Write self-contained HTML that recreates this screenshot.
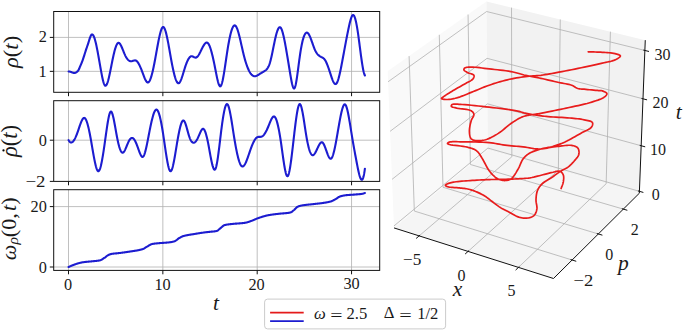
<!DOCTYPE html>
<html><head><meta charset="utf-8"><style>
html,body{margin:0;padding:0;background:#fff;}
body{width:685px;height:332px;overflow:hidden;}
svg{display:block;}
text{font-family:"Liberation Serif",serif;fill:#1a1a1a;}
</style></head><body>
<svg width="685" height="332" viewBox="0 0 685 332">
<rect width="685" height="332" fill="#fff"/>
<g id="g3d">
<polygon points="394.01,227.91 487.93,149.91 486.48,1.55 387.66,71.18" fill="#f9f9f9"/>
<polygon points="487.93,149.91 639.34,193.22 645.27,40.15 486.48,1.55" fill="#f2f2f2"/>
<polygon points="394.01,227.91 553.49,278.51 639.34,193.22 487.93,149.91" fill="#f5f5f5"/>
<polyline points="419.13,235.88 511.85,156.75 511.52,7.63" fill="none" stroke="#b0b0b0" stroke-width="0.8"/>
<polyline points="468.07,251.41 558.37,170.06 560.27,19.49" fill="none" stroke="#b0b0b0" stroke-width="0.8"/>
<polyline points="518.44,267.39 606.15,183.73 610.41,31.67" fill="none" stroke="#b0b0b0" stroke-width="0.8"/>
<polyline points="572.11,260.01 414.32,211.04 409.1,56.08" fill="none" stroke="#b0b0b0" stroke-width="0.8"/>
<polyline points="598.34,233.96 442.99,187.24 439.29,34.8" fill="none" stroke="#b0b0b0" stroke-width="0.8"/>
<polyline points="623.34,209.12 470.38,164.49 468.07,14.52" fill="none" stroke="#b0b0b0" stroke-width="0.8"/>
<polyline points="393.93,225.97 487.91,148.07 639.41,191.32" fill="none" stroke="#b0b0b0" stroke-width="0.8"/>
<polyline points="392.04,179.35 487.48,103.83 641.18,145.74" fill="none" stroke="#b0b0b0" stroke-width="0.8"/>
<polyline points="390.1,131.31 487.04,58.33 643,98.81" fill="none" stroke="#b0b0b0" stroke-width="0.8"/>
<polyline points="388.09,81.76 486.58,11.53 644.87,50.46" fill="none" stroke="#b0b0b0" stroke-width="0.8"/>
<polyline points="394.01,227.91 553.49,278.51" fill="none" stroke="#111" stroke-width="1"/>
<polyline points="553.49,278.51 639.34,193.22" fill="none" stroke="#111" stroke-width="1"/>
<polyline points="639.34,193.22 645.27,40.15" fill="none" stroke="#111" stroke-width="1"/>
<polyline points="420.03,235.12 416.13,238.44" fill="none" stroke="#111" stroke-width="1"/>
<polyline points="468.94,250.62 465.14,254.04" fill="none" stroke="#111" stroke-width="1"/>
<polyline points="519.29,266.58 515.6,270.1" fill="none" stroke="#111" stroke-width="1"/>
<polyline points="570.57,259.53 576.24,261.29" fill="none" stroke="#111" stroke-width="1"/>
<polyline points="596.82,233.5 602.4,235.18" fill="none" stroke="#111" stroke-width="1"/>
<polyline points="621.85,208.68 627.34,210.28" fill="none" stroke="#111" stroke-width="1"/>
<polyline points="637.93,190.89 643.37,192.45" fill="none" stroke="#111" stroke-width="1"/>
<polyline points="639.68,145.33 645.19,146.83" fill="none" stroke="#111" stroke-width="1"/>
<polyline points="641.47,98.41 647.07,99.87" fill="none" stroke="#111" stroke-width="1"/>
<polyline points="643.32,50.08 649.01,51.48" fill="none" stroke="#111" stroke-width="1"/>
<path d="M561.1 188.5 L561.39 187.69 L561.7 186.89 L562.02 186.08 L562.34 185.28 L562.64 184.47 L562.9 183.66 L563.13 182.83 L563.3 182 L563.44 181.13 L563.56 180.21 L563.65 179.28 L563.71 178.35 L563.71 177.44 L563.65 176.56 L563.52 175.74 L563.3 175 L563.05 174.41 L562.75 173.84 L562.4 173.29 L562 172.77 L561.56 172.3 L561.08 171.89 L560.56 171.55 L560 171.3 L559.2 171.13 L558.29 171.11 L557.3 171.23 L556.24 171.44 L555.16 171.7 L554.08 171.99 L553.01 172.27 L552 172.5 L551.06 172.7 L550.16 172.91 L549.27 173.14 L548.38 173.38 L547.48 173.62 L546.54 173.88 L545.55 174.14 L544.5 174.4 L542.91 174.8 L541.2 175.24 L539.4 175.71 L537.53 176.19 L535.62 176.65 L533.72 177.09 L531.83 177.48 L530 177.8 L528.3 178.04 L526.61 178.24 L524.94 178.39 L523.26 178.52 L521.58 178.63 L519.88 178.72 L518.16 178.81 L516.4 178.9 L514.41 179 L512.35 179.08 L510.25 179.15 L508.13 179.21 L506.02 179.27 L503.95 179.31 L501.93 179.36 L500 179.4 L498.45 179.43 L496.97 179.45 L495.54 179.47 L494.14 179.48 L492.72 179.49 L491.28 179.52 L489.78 179.55 L488.2 179.6 L486.11 179.68 L483.91 179.78 L481.63 179.89 L479.31 180.02 L476.96 180.15 L474.62 180.29 L472.32 180.44 L470.1 180.6 L468.05 180.74 L465.98 180.88 L463.9 181.02 L461.85 181.17 L459.86 181.34 L457.95 181.53 L456.15 181.75 L454.5 182 L453.41 182.19 L452.35 182.4 L451.32 182.61 L450.34 182.84 L449.43 183.08 L448.59 183.34 L447.84 183.61 L447.2 183.9 L446.87 184.07 L446.54 184.26 L446.23 184.45 L445.95 184.64 L445.72 184.84 L445.54 185.03 L445.43 185.22 L445.4 185.4 L445.49 185.61 L445.71 185.81 L446.03 186.02 L446.42 186.21 L446.88 186.4 L447.38 186.58 L447.89 186.75 L448.4 186.9 L449.34 187.11 L450.42 187.26 L451.62 187.38 L452.89 187.46 L454.21 187.53 L455.54 187.6 L456.85 187.69 L458.1 187.8 L459.31 187.92 L460.52 188.04 L461.74 188.15 L462.96 188.28 L464.16 188.41 L465.36 188.58 L466.54 188.77 L467.7 189 L468.79 189.26 L469.86 189.54 L470.91 189.84 L471.96 190.17 L473 190.52 L474.03 190.9 L475.06 191.29 L476.1 191.7 L477.18 192.15 L478.27 192.62 L479.35 193.11 L480.43 193.63 L481.5 194.16 L482.56 194.72 L483.59 195.3 L484.6 195.9 L485.55 196.51 L486.46 197.15 L487.36 197.82 L488.24 198.5 L489.11 199.2 L489.99 199.9 L490.88 200.6 L491.8 201.3 L492.8 202.05 L493.8 202.82 L494.82 203.6 L495.85 204.38 L496.88 205.15 L497.92 205.9 L498.96 206.62 L500 207.3 L500.98 207.9 L501.95 208.46 L502.93 208.99 L503.91 209.51 L504.9 210.01 L505.91 210.53 L506.94 211.05 L508 211.6 L509.27 212.29 L510.59 213.05 L511.94 213.83 L513.32 214.61 L514.7 215.36 L516.09 216.05 L517.46 216.64 L518.8 217.1 L519.96 217.41 L521.14 217.68 L522.32 217.89 L523.49 218.04 L524.64 218.14 L525.77 218.16 L526.86 218.12 L527.9 218 L528.78 217.84 L529.66 217.64 L530.53 217.38 L531.37 217.08 L532.17 216.72 L532.91 216.31 L533.6 215.83 L534.2 215.3 L534.73 214.69 L535.21 213.99 L535.62 213.23 L535.98 212.42 L536.29 211.56 L536.54 210.68 L536.74 209.79 L536.9 208.9 L536.97 207.86 L536.92 206.78 L536.77 205.66 L536.57 204.52 L536.35 203.37 L536.16 202.2 L536.03 201.05 L536 199.9 L536.04 198.72 L536.12 197.51 L536.22 196.29 L536.36 195.08 L536.56 193.88 L536.81 192.7 L537.12 191.57 L537.5 190.5 L537.92 189.54 L538.4 188.61 L538.92 187.71 L539.5 186.84 L540.13 186 L540.8 185.18 L541.53 184.38 L542.3 183.6 L543.28 182.74 L544.37 181.94 L545.55 181.17 L546.78 180.44 L548.03 179.71 L549.29 178.99 L550.52 178.26 L551.7 177.5 L552.8 176.74 L553.89 175.95 L554.97 175.16 L556.04 174.37 L557.11 173.59 L558.18 172.83 L559.24 172.09 L560.3 171.4 L561.28 170.82 L562.26 170.29 L563.24 169.8 L564.22 169.32 L565.19 168.83 L566.15 168.31 L567.08 167.74 L568 167.1 L568.97 166.32 L569.95 165.48 L570.91 164.57 L571.86 163.64 L572.77 162.68 L573.64 161.73 L574.45 160.8 L575.2 159.9 L575.77 159.22 L576.34 158.55 L576.89 157.9 L577.4 157.24 L577.86 156.59 L578.26 155.91 L578.58 155.22 L578.8 154.5 L578.94 153.72 L579.01 152.88 L579.02 152.01 L578.95 151.13 L578.81 150.27 L578.59 149.46 L578.29 148.73 L577.9 148.1 L577.39 147.55 L576.77 147.08 L576.05 146.67 L575.25 146.33 L574.39 146.03 L573.48 145.78 L572.55 145.57 L571.6 145.4 L570.21 145.26 L568.64 145.25 L566.96 145.35 L565.23 145.52 L563.5 145.73 L561.83 145.95 L560.28 146.15 L558.9 146.3 L558.1 146.37 L557.37 146.44 L556.7 146.5 L556.05 146.56 L555.41 146.63 L554.74 146.71 L554.01 146.8 L553.2 146.9 L551.82 147.12 L550.32 147.41 L548.72 147.75 L547.04 148.09 L545.31 148.42 L543.54 148.7 L541.77 148.91 L540 149 L537.99 148.96 L535.94 148.8 L533.84 148.54 L531.72 148.22 L529.57 147.87 L527.42 147.51 L525.26 147.18 L523.1 146.9 L520.86 146.66 L518.59 146.44 L516.3 146.23 L514.01 146.03 L511.72 145.82 L509.45 145.6 L507.21 145.36 L505 145.1 L503 144.82 L501.07 144.51 L499.18 144.19 L497.3 143.85 L495.39 143.52 L493.43 143.21 L491.38 142.93 L489.2 142.7 L486.1 142.46 L482.72 142.26 L479.15 142.1 L475.5 141.98 L471.87 141.9 L468.36 141.84 L465.07 141.81 L462.1 141.8 L460.15 141.78 L458.18 141.74 L456.26 141.7 L454.42 141.68 L452.73 141.7 L451.23 141.78 L449.97 141.94 L449 142.2 L448.69 142.33 L448.41 142.49 L448.15 142.66 L447.92 142.83 L447.73 143.01 L447.6 143.18 L447.52 143.35 L447.5 143.5 L447.56 143.64 L447.69 143.78 L447.88 143.9 L448.13 144.03 L448.42 144.14 L448.76 144.26 L449.12 144.38 L449.5 144.5 L450.92 144.83 L452.87 145.13 L455.2 145.42 L457.77 145.7 L460.42 146.01 L463.03 146.35 L465.43 146.74 L467.5 147.2 L468.83 147.56 L470.1 147.91 L471.32 148.27 L472.49 148.66 L473.6 149.09 L474.66 149.58 L475.66 150.15 L476.6 150.8 L477.43 151.52 L478.18 152.31 L478.86 153.16 L479.49 154.07 L480.1 155.02 L480.71 156.02 L481.34 157.05 L482 158.1 L482.87 159.52 L483.73 161.09 L484.6 162.74 L485.48 164.43 L486.37 166.12 L487.28 167.76 L488.22 169.3 L489.2 170.7 L490.05 171.79 L490.92 172.85 L491.8 173.87 L492.71 174.84 L493.63 175.74 L494.57 176.58 L495.52 177.33 L496.5 178 L497.36 178.51 L498.24 178.97 L499.13 179.37 L500.04 179.73 L500.95 180.02 L501.87 180.25 L502.79 180.41 L503.7 180.5 L504.61 180.53 L505.55 180.51 L506.49 180.44 L507.43 180.29 L508.36 180.08 L509.28 179.78 L510.16 179.39 L511 178.9 L512.03 178.08 L513.02 177.04 L513.97 175.83 L514.88 174.49 L515.76 173.08 L516.6 171.65 L517.42 170.24 L518.2 168.9 L518.89 167.65 L519.5 166.34 L520.07 165.01 L520.62 163.68 L521.18 162.38 L521.76 161.13 L522.39 159.96 L523.1 158.9 L523.75 158.08 L524.42 157.31 L525.11 156.59 L525.82 155.92 L526.57 155.28 L527.37 154.67 L528.21 154.08 L529.1 153.5 L530.26 152.84 L531.51 152.22 L532.83 151.64 L534.22 151.1 L535.64 150.59 L537.09 150.11 L538.55 149.65 L540 149.2 L541.58 148.76 L543.21 148.39 L544.88 148.05 L546.56 147.74 L548.25 147.43 L549.93 147.1 L551.59 146.73 L553.2 146.3 L554.71 145.85 L556.19 145.39 L557.64 144.91 L559.08 144.41 L560.53 143.87 L561.99 143.3 L563.47 142.68 L565 142 L566.89 141.1 L568.85 140.09 L570.85 139 L572.87 137.86 L574.89 136.7 L576.86 135.55 L578.78 134.44 L580.6 133.4 L582.14 132.58 L583.74 131.8 L585.35 131.04 L586.91 130.29 L588.36 129.54 L589.65 128.76 L590.71 127.96 L591.5 127.1 L591.86 126.54 L592.17 125.94 L592.42 125.32 L592.59 124.7 L592.69 124.09 L592.69 123.51 L592.6 122.97 L592.4 122.5 L591.91 121.96 L591.17 121.51 L590.23 121.14 L589.14 120.82 L587.94 120.55 L586.68 120.3 L585.42 120.05 L584.2 119.8 L582.62 119.48 L580.97 119.2 L579.24 118.96 L577.45 118.74 L575.61 118.55 L573.71 118.36 L571.77 118.18 L569.8 118 L567.26 117.79 L564.56 117.61 L561.75 117.44 L558.89 117.29 L556.03 117.14 L553.24 116.98 L550.58 116.8 L548.1 116.6 L546.29 116.43 L544.55 116.25 L542.86 116.06 L541.23 115.87 L539.63 115.66 L538.07 115.45 L536.53 115.23 L535 115 L533.68 114.79 L532.38 114.57 L531.11 114.35 L529.86 114.12 L528.63 113.88 L527.41 113.63 L526.2 113.37 L525 113.1 L523.92 112.84 L522.92 112.56 L521.94 112.27 L520.97 111.97 L519.96 111.67 L518.88 111.37 L517.71 111.08 L516.4 110.8 L513.74 110.32 L510.68 109.84 L507.33 109.37 L503.76 108.91 L500.08 108.46 L496.36 108.02 L492.71 107.6 L489.2 107.2 L485.72 106.8 L482.11 106.38 L478.45 105.97 L474.82 105.58 L471.29 105.23 L467.94 104.92 L464.85 104.67 L462.1 104.5 L460.56 104.4 L459.03 104.28 L457.55 104.17 L456.17 104.08 L454.9 104.04 L453.8 104.08 L452.88 104.23 L452.2 104.5 L451.96 104.68 L451.75 104.88 L451.57 105.12 L451.42 105.36 L451.32 105.62 L451.26 105.86 L451.25 106.09 L451.3 106.3 L451.54 106.6 L451.98 106.86 L452.57 107.09 L453.29 107.3 L454.09 107.5 L454.95 107.69 L455.83 107.89 L456.7 108.1 L458.25 108.42 L460.11 108.68 L462.16 108.91 L464.28 109.16 L466.35 109.44 L468.28 109.78 L469.93 110.23 L471.2 110.8 L471.75 111.17 L472.24 111.56 L472.68 111.98 L473.06 112.42 L473.37 112.89 L473.62 113.37 L473.8 113.88 L473.9 114.4 L473.87 115.08 L473.67 115.78 L473.33 116.52 L472.9 117.3 L472.42 118.1 L471.95 118.94 L471.53 119.8 L471.2 120.7 L470.86 121.92 L470.52 123.25 L470.2 124.65 L469.91 126.09 L469.67 127.54 L469.5 128.96 L469.4 130.33 L469.4 131.6 L469.45 132.61 L469.53 133.64 L469.65 134.66 L469.82 135.64 L470.05 136.57 L470.35 137.42 L470.73 138.17 L471.2 138.8 L471.69 139.24 L472.26 139.6 L472.9 139.88 L473.58 140.1 L474.31 140.27 L475.06 140.4 L475.83 140.51 L476.6 140.6 L477.6 140.68 L478.65 140.71 L479.75 140.68 L480.88 140.6 L482.04 140.46 L483.22 140.27 L484.41 140.01 L485.6 139.7 L487.12 139.21 L488.68 138.6 L490.28 137.89 L491.9 137.09 L493.52 136.23 L495.14 135.31 L496.74 134.37 L498.3 133.4 L499.93 132.3 L501.55 131.09 L503.15 129.8 L504.73 128.48 L506.31 127.15 L507.88 125.85 L509.44 124.63 L511 123.5 L512.39 122.56 L513.79 121.64 L515.19 120.74 L516.58 119.88 L517.95 119.07 L519.29 118.33 L520.57 117.67 L521.8 117.1 L522.63 116.76 L523.43 116.47 L524.2 116.22 L524.95 116 L525.7 115.81 L526.45 115.64 L527.21 115.47 L528 115.3 L528.84 115.13 L529.69 115 L530.54 114.88 L531.4 114.77 L532.28 114.67 L533.16 114.56 L534.07 114.44 L535 114.3 L536.09 114.12 L537.19 113.94 L538.29 113.75 L539.42 113.55 L540.59 113.34 L541.82 113.11 L543.12 112.86 L544.5 112.6 L546.79 112.15 L549.29 111.65 L551.96 111.11 L554.75 110.54 L557.62 109.94 L560.51 109.33 L563.39 108.71 L566.2 108.1 L569.14 107.47 L572.16 106.84 L575.22 106.2 L578.28 105.55 L581.3 104.88 L584.23 104.18 L587.05 103.46 L589.7 102.7 L591.77 102.07 L593.86 101.43 L595.91 100.78 L597.89 100.11 L599.75 99.41 L601.43 98.7 L602.9 97.96 L604.1 97.2 L604.67 96.76 L605.21 96.31 L605.71 95.83 L606.15 95.36 L606.5 94.89 L606.76 94.44 L606.9 94 L606.9 93.6 L606.7 93.19 L606.3 92.78 L605.74 92.38 L605.08 92.01 L604.36 91.67 L603.62 91.37 L602.92 91.11 L602.3 90.9 L601.86 90.78 L601.44 90.71 L601.04 90.67 L600.64 90.66 L600.22 90.66 L599.77 90.65 L599.26 90.64 L598.7 90.6 L597.31 90.47 L595.62 90.32 L593.71 90.14 L591.68 89.94 L589.63 89.74 L587.63 89.55 L585.79 89.36 L584.2 89.2 L583.29 89.12 L582.43 89.07 L581.63 89.03 L580.87 88.99 L580.12 88.93 L579.39 88.84 L578.65 88.7 L577.9 88.5 L577.11 88.21 L576.36 87.83 L575.63 87.41 L574.89 86.95 L574.14 86.47 L573.35 86.01 L572.51 85.58 L571.6 85.2 L570.26 84.77 L568.82 84.4 L567.29 84.07 L565.69 83.77 L564.04 83.48 L562.34 83.18 L560.63 82.86 L558.9 82.5 L556.76 82.01 L554.49 81.49 L552.14 80.93 L549.76 80.36 L547.39 79.8 L545.08 79.26 L542.86 78.75 L540.8 78.3 L539.29 77.98 L537.8 77.69 L536.35 77.4 L534.95 77.13 L533.6 76.88 L532.32 76.64 L531.11 76.41 L530 76.2 L529.35 76.08 L528.77 75.97 L528.24 75.87 L527.74 75.78 L527.22 75.68 L526.68 75.58 L526.08 75.45 L525.4 75.3 L524 74.96 L522.43 74.53 L520.72 74.05 L518.9 73.53 L516.98 73.01 L515.01 72.49 L513.01 72.02 L511 71.6 L508.49 71.16 L505.83 70.77 L503.08 70.41 L500.27 70.08 L497.43 69.77 L494.62 69.48 L491.86 69.19 L489.2 68.9 L486.81 68.62 L484.37 68.31 L481.92 68 L479.52 67.7 L477.21 67.44 L475.02 67.24 L473 67.12 L471.2 67.1 L470.2 67.12 L469.23 67.15 L468.29 67.2 L467.41 67.27 L466.61 67.38 L465.89 67.53 L465.28 67.73 L464.8 68 L464.58 68.18 L464.38 68.38 L464.21 68.61 L464.06 68.84 L463.96 69.08 L463.89 69.33 L463.87 69.57 L463.9 69.8 L464.06 70.14 L464.35 70.48 L464.76 70.83 L465.24 71.17 L465.79 71.52 L466.36 71.85 L466.94 72.18 L467.5 72.5 L468.26 72.86 L469.16 73.19 L470.13 73.49 L471.12 73.78 L472.05 74.1 L472.87 74.44 L473.51 74.84 L473.9 75.3 L474.03 75.69 L474.08 76.12 L474.04 76.58 L473.94 77.05 L473.77 77.53 L473.55 78 L473.29 78.47 L473 78.9 L472.44 79.51 L471.73 80.09 L470.88 80.63 L469.93 81.17 L468.9 81.7 L467.84 82.24 L466.76 82.8 L465.7 83.4 L464.28 84.23 L462.76 85.1 L461.16 85.99 L459.52 86.91 L457.86 87.84 L456.22 88.77 L454.62 89.7 L453.1 90.6 L451.73 91.43 L450.3 92.3 L448.87 93.19 L447.47 94.06 L446.15 94.9 L444.95 95.69 L443.92 96.4 L443.1 97 L442.8 97.23 L442.5 97.44 L442.21 97.65 L441.96 97.84 L441.75 98.02 L441.59 98.19 L441.51 98.35 L441.5 98.5 L441.66 98.7 L442.01 98.89 L442.51 99.05 L443.12 99.19 L443.81 99.3 L444.55 99.4 L445.29 99.46 L446 99.5 L447.11 99.5 L448.32 99.43 L449.62 99.3 L450.98 99.11 L452.39 98.87 L453.83 98.58 L455.27 98.26 L456.7 97.9 L458.41 97.41 L460.16 96.82 L461.94 96.16 L463.74 95.45 L465.57 94.7 L467.43 93.93 L469.3 93.16 L471.2 92.4 L473.36 91.54 L475.56 90.64 L477.8 89.7 L480.06 88.76 L482.34 87.82 L484.63 86.9 L486.92 86.02 L489.2 85.2 L491.44 84.43 L493.7 83.68 L495.95 82.96 L498.21 82.26 L500.48 81.59 L502.75 80.96 L505.02 80.36 L507.3 79.8 L509.56 79.29 L511.84 78.81 L514.13 78.36 L516.42 77.95 L518.7 77.57 L520.97 77.22 L523.2 76.9 L525.4 76.6 L527.37 76.37 L529.3 76.2 L531.21 76.06 L533.1 75.94 L534.99 75.83 L536.9 75.69 L538.83 75.52 L540.8 75.3 L542.98 75 L545.16 74.67 L547.36 74.31 L549.58 73.93 L551.84 73.52 L554.13 73.09 L556.49 72.65 L558.9 72.2 L561.89 71.63 L565.03 71.02 L568.27 70.38 L571.56 69.72 L574.84 69.05 L578.08 68.38 L581.21 67.73 L584.2 67.1 L586.63 66.58 L589.02 66.07 L591.35 65.57 L593.64 65.07 L595.89 64.57 L598.08 64.08 L600.21 63.59 L602.3 63.1 L604.04 62.71 L605.78 62.35 L607.49 62.01 L609.17 61.66 L610.78 61.3 L612.3 60.89 L613.72 60.43 L615 59.9 L615.9 59.46 L616.84 58.96 L617.76 58.43 L618.62 57.89 L619.36 57.35 L619.93 56.82 L620.3 56.33 L620.4 55.9 L620.23 55.54 L619.82 55.2 L619.23 54.89 L618.49 54.59 L617.66 54.32 L616.77 54.06 L615.87 53.82 L615 53.6 L613.69 53.31 L612.24 53.08 L610.68 52.89 L609.05 52.74 L607.36 52.62 L605.66 52.51 L603.96 52.41 L602.3 52.3 L600.57 52.19 L598.83 52.11 L597.07 52.05 L595.3 51.99 L593.52 51.95 L591.74 51.9 L589.97 51.86 L588.2 51.8" fill="none" stroke="#e81c1c" stroke-width="1.7" stroke-linejoin="round" stroke-linecap="round"/>
</g>
<g id="g2d">
<line x1="68.5" y1="11.5" x2="68.5" y2="92.3" stroke="#b0b0b0" stroke-width="0.8"/>
<line x1="162.85" y1="11.5" x2="162.85" y2="92.3" stroke="#b0b0b0" stroke-width="0.8"/>
<line x1="257.2" y1="11.5" x2="257.2" y2="92.3" stroke="#b0b0b0" stroke-width="0.8"/>
<line x1="351.55" y1="11.5" x2="351.55" y2="92.3" stroke="#b0b0b0" stroke-width="0.8"/>
<line x1="53.7" y1="71.35" x2="379.7" y2="71.35" stroke="#b0b0b0" stroke-width="0.8"/>
<line x1="53.7" y1="37.4" x2="379.7" y2="37.4" stroke="#b0b0b0" stroke-width="0.8"/>
<line x1="68.5" y1="100.7" x2="68.5" y2="181.4" stroke="#b0b0b0" stroke-width="0.8"/>
<line x1="162.85" y1="100.7" x2="162.85" y2="181.4" stroke="#b0b0b0" stroke-width="0.8"/>
<line x1="257.2" y1="100.7" x2="257.2" y2="181.4" stroke="#b0b0b0" stroke-width="0.8"/>
<line x1="351.55" y1="100.7" x2="351.55" y2="181.4" stroke="#b0b0b0" stroke-width="0.8"/>
<line x1="53.7" y1="140.2" x2="379.7" y2="140.2" stroke="#b0b0b0" stroke-width="0.8"/>
<line x1="68.5" y1="189.7" x2="68.5" y2="270.4" stroke="#b0b0b0" stroke-width="0.8"/>
<line x1="162.85" y1="189.7" x2="162.85" y2="270.4" stroke="#b0b0b0" stroke-width="0.8"/>
<line x1="257.2" y1="189.7" x2="257.2" y2="270.4" stroke="#b0b0b0" stroke-width="0.8"/>
<line x1="351.55" y1="189.7" x2="351.55" y2="270.4" stroke="#b0b0b0" stroke-width="0.8"/>
<line x1="53.7" y1="267" x2="379.7" y2="267" stroke="#b0b0b0" stroke-width="0.8"/>
<line x1="53.7" y1="206.6" x2="379.7" y2="206.6" stroke="#b0b0b0" stroke-width="0.8"/>
<path d="M68.6 71.5 L68.93 71.49 L69.26 71.52 L69.59 71.57 L69.92 71.65 L70.25 71.74 L70.58 71.85 L70.91 71.97 L71.24 72.1 L71.57 72.23 L71.9 72.36 L72.23 72.49 L72.56 72.61 L72.88 72.71 L73.21 72.8 L73.54 72.87 L73.87 72.92 L74.2 72.94 L74.53 72.93 L74.86 72.89 L75.19 72.81 L75.52 72.69 L75.85 72.54 L76.18 72.36 L76.51 72.15 L76.84 71.92 L77.17 71.67 L77.5 71.38 L77.83 71.04 L78.16 70.63 L78.49 70.12 L78.82 69.5 L79.15 68.8 L79.48 68.03 L79.81 67.22 L80.14 66.4 L80.47 65.6 L80.79 64.83 L81.12 64.06 L81.45 63.29 L81.78 62.5 L82.11 61.67 L82.44 60.79 L82.77 59.87 L83.1 58.91 L83.43 57.92 L83.76 56.9 L84.09 55.87 L84.42 54.83 L84.75 53.78 L85.08 52.74 L85.41 51.7 L85.74 50.68 L86.07 49.68 L86.4 48.7 L86.73 47.72 L87.06 46.75 L87.39 45.78 L87.72 44.81 L88.05 43.82 L88.38 42.81 L88.7 41.78 L89.03 40.73 L89.36 39.68 L89.69 38.66 L90.02 37.69 L90.35 36.8 L90.68 36.02 L91.01 35.37 L91.34 34.88 L91.67 34.57 L92 34.43 L92.33 34.46 L92.66 34.64 L92.99 34.97 L93.32 35.45 L93.65 36.06 L93.98 36.81 L94.31 37.67 L94.64 38.65 L94.97 39.75 L95.3 40.94 L95.63 42.23 L95.96 43.61 L96.29 45.06 L96.62 46.6 L96.94 48.2 L97.27 49.86 L97.6 51.57 L97.93 53.33 L98.26 55.13 L98.59 56.97 L98.92 58.83 L99.25 60.7 L99.58 62.59 L99.91 64.49 L100.24 66.38 L100.57 68.26 L100.9 70.11 L101.23 71.92 L101.56 73.68 L101.89 75.37 L102.22 76.98 L102.55 78.49 L102.88 79.9 L103.21 81.19 L103.54 82.34 L103.87 83.35 L104.2 84.19 L104.53 84.87 L104.85 85.35 L105.18 85.63 L105.51 85.72 L105.84 85.61 L106.17 85.32 L106.5 84.87 L106.83 84.26 L107.16 83.5 L107.49 82.61 L107.82 81.59 L108.15 80.46 L108.48 79.22 L108.81 77.9 L109.14 76.49 L109.47 75.01 L109.8 73.47 L110.13 71.88 L110.46 70.26 L110.79 68.6 L111.12 66.93 L111.45 65.26 L111.78 63.59 L112.11 61.94 L112.44 60.32 L112.76 58.73 L113.09 57.18 L113.42 55.69 L113.75 54.25 L114.08 52.88 L114.41 51.56 L114.74 50.32 L115.07 49.16 L115.4 48.07 L115.73 47.08 L116.06 46.17 L116.39 45.37 L116.72 44.66 L117.05 44.07 L117.38 43.58 L117.71 43.22 L118.04 42.98 L118.37 42.86 L118.7 42.87 L119.03 42.99 L119.36 43.21 L119.69 43.52 L120.02 43.93 L120.35 44.41 L120.67 44.96 L121 45.58 L121.33 46.25 L121.66 46.97 L121.99 47.72 L122.32 48.51 L122.65 49.31 L122.98 50.14 L123.31 50.97 L123.64 51.79 L123.97 52.61 L124.3 53.4 L124.63 54.18 L124.96 54.91 L125.29 55.61 L125.62 56.26 L125.95 56.87 L126.28 57.44 L126.61 57.96 L126.94 58.45 L127.27 58.89 L127.6 59.29 L127.93 59.66 L128.26 59.98 L128.59 60.27 L128.91 60.52 L129.24 60.73 L129.57 60.91 L129.9 61.05 L130.23 61.15 L130.56 61.22 L130.89 61.25 L131.22 61.25 L131.55 61.22 L131.88 61.16 L132.21 61.08 L132.54 60.98 L132.87 60.87 L133.2 60.76 L133.53 60.66 L133.86 60.56 L134.19 60.48 L134.52 60.43 L134.85 60.4 L135.18 60.41 L135.51 60.46 L135.84 60.55 L136.17 60.7 L136.5 60.91 L136.82 61.18 L137.15 61.51 L137.48 61.89 L137.81 62.32 L138.14 62.81 L138.47 63.33 L138.8 63.91 L139.13 64.52 L139.46 65.17 L139.79 65.86 L140.12 66.58 L140.45 67.33 L140.78 68.1 L141.11 68.91 L141.44 69.73 L141.77 70.57 L142.1 71.43 L142.43 72.31 L142.76 73.19 L143.09 74.08 L143.42 74.97 L143.75 75.84 L144.08 76.69 L144.41 77.52 L144.73 78.31 L145.06 79.06 L145.39 79.75 L145.72 80.39 L146.05 80.96 L146.38 81.45 L146.71 81.86 L147.04 82.17 L147.37 82.39 L147.7 82.5 L148.03 82.49 L148.36 82.37 L148.69 82.12 L149.02 81.76 L149.35 81.29 L149.68 80.71 L150.01 80.03 L150.34 79.25 L150.67 78.38 L151 77.42 L151.33 76.36 L151.66 75.23 L151.99 74.02 L152.32 72.74 L152.65 71.38 L152.97 69.96 L153.3 68.47 L153.63 66.93 L153.96 65.33 L154.29 63.69 L154.62 61.99 L154.95 60.26 L155.28 58.48 L155.61 56.68 L155.94 54.85 L156.27 53.01 L156.6 51.17 L156.93 49.33 L157.26 47.51 L157.59 45.71 L157.92 43.94 L158.25 42.21 L158.58 40.53 L158.91 38.9 L159.24 37.35 L159.57 35.86 L159.9 34.46 L160.23 33.16 L160.56 31.95 L160.88 30.85 L161.21 29.88 L161.54 29.03 L161.87 28.31 L162.2 27.74 L162.53 27.33 L162.86 27.08 L163.19 27 L163.52 27.09 L163.85 27.36 L164.18 27.8 L164.51 28.39 L164.84 29.13 L165.17 30.01 L165.5 31.02 L165.83 32.14 L166.16 33.38 L166.49 34.72 L166.82 36.16 L167.15 37.68 L167.48 39.27 L167.81 40.93 L168.14 42.64 L168.47 44.41 L168.79 46.21 L169.12 48.05 L169.45 49.9 L169.78 51.77 L170.11 53.64 L170.44 55.51 L170.77 57.36 L171.1 59.19 L171.43 60.98 L171.76 62.74 L172.09 64.45 L172.42 66.12 L172.75 67.73 L173.08 69.29 L173.41 70.79 L173.74 72.23 L174.07 73.6 L174.4 74.89 L174.73 76.11 L175.06 77.25 L175.39 78.3 L175.72 79.27 L176.05 80.14 L176.38 80.91 L176.71 81.59 L177.03 82.16 L177.36 82.61 L177.69 82.96 L178.02 83.19 L178.35 83.29 L178.68 83.27 L179.01 83.12 L179.34 82.85 L179.67 82.46 L180 81.96 L180.33 81.36 L180.66 80.68 L180.99 79.92 L181.32 79.08 L181.65 78.18 L181.98 77.23 L182.31 76.23 L182.64 75.2 L182.97 74.14 L183.3 73.06 L183.63 71.96 L183.96 70.87 L184.29 69.79 L184.62 68.72 L184.94 67.67 L185.27 66.66 L185.6 65.69 L185.93 64.75 L186.26 63.85 L186.59 63 L186.92 62.18 L187.25 61.41 L187.58 60.69 L187.91 60.02 L188.24 59.39 L188.57 58.82 L188.9 58.3 L189.23 57.83 L189.56 57.42 L189.89 57.07 L190.22 56.77 L190.55 56.54 L190.88 56.37 L191.21 56.26 L191.54 56.22 L191.87 56.23 L192.2 56.3 L192.53 56.4 L192.85 56.53 L193.18 56.69 L193.51 56.86 L193.84 57.03 L194.17 57.19 L194.5 57.34 L194.83 57.47 L195.16 57.56 L195.49 57.6 L195.82 57.6 L196.15 57.53 L196.48 57.4 L196.81 57.19 L197.14 56.92 L197.47 56.59 L197.8 56.21 L198.13 55.77 L198.46 55.29 L198.79 54.77 L199.12 54.21 L199.45 53.62 L199.78 53.01 L200.11 52.37 L200.44 51.72 L200.76 51.05 L201.09 50.38 L201.42 49.71 L201.75 49.03 L202.08 48.37 L202.41 47.72 L202.74 47.09 L203.07 46.48 L203.4 45.89 L203.73 45.34 L204.06 44.83 L204.39 44.35 L204.72 43.92 L205.05 43.55 L205.38 43.23 L205.71 42.97 L206.04 42.77 L206.37 42.65 L206.7 42.6 L207.03 42.64 L207.36 42.76 L207.69 42.96 L208.02 43.27 L208.35 43.67 L208.68 44.16 L209 44.75 L209.33 45.43 L209.66 46.2 L209.99 47.04 L210.32 47.96 L210.65 48.96 L210.98 50.03 L211.31 51.17 L211.64 52.37 L211.97 53.64 L212.3 54.96 L212.63 56.33 L212.96 57.76 L213.29 59.23 L213.62 60.75 L213.95 62.31 L214.28 63.9 L214.61 65.53 L214.94 67.18 L215.27 68.86 L215.6 70.56 L215.93 72.25 L216.26 73.92 L216.59 75.55 L216.91 77.13 L217.24 78.63 L217.57 80.05 L217.9 81.37 L218.23 82.57 L218.56 83.63 L218.89 84.54 L219.22 85.28 L219.55 85.84 L219.88 86.19 L220.21 86.33 L220.54 86.22 L220.87 85.88 L221.2 85.3 L221.53 84.51 L221.86 83.51 L222.19 82.33 L222.52 80.97 L222.85 79.46 L223.18 77.8 L223.51 76.02 L223.84 74.12 L224.17 72.13 L224.5 70.06 L224.82 67.92 L225.15 65.73 L225.48 63.51 L225.81 61.26 L226.14 59.01 L226.47 56.77 L226.8 54.55 L227.13 52.37 L227.46 50.24 L227.79 48.19 L228.12 46.2 L228.45 44.3 L228.78 42.47 L229.11 40.72 L229.44 39.05 L229.77 37.46 L230.1 35.97 L230.43 34.56 L230.76 33.24 L231.09 32.02 L231.42 30.89 L231.75 29.87 L232.08 28.94 L232.41 28.11 L232.74 27.39 L233.06 26.77 L233.39 26.27 L233.72 25.87 L234.05 25.59 L234.38 25.42 L234.71 25.37 L235.04 25.45 L235.37 25.64 L235.7 25.96 L236.03 26.4 L236.36 26.95 L236.69 27.62 L237.02 28.38 L237.35 29.24 L237.68 30.18 L238.01 31.21 L238.34 32.31 L238.67 33.47 L239 34.7 L239.33 35.98 L239.66 37.31 L239.99 38.68 L240.32 40.08 L240.65 41.51 L240.97 42.96 L241.3 44.42 L241.63 45.88 L241.96 47.35 L242.29 48.81 L242.62 50.25 L242.95 51.68 L243.28 53.08 L243.61 54.44 L243.94 55.76 L244.27 57.04 L244.6 58.27 L244.93 59.46 L245.26 60.61 L245.59 61.72 L245.92 62.78 L246.25 63.8 L246.58 64.78 L246.91 65.72 L247.24 66.61 L247.57 67.46 L247.9 68.27 L248.23 69.05 L248.56 69.78 L248.88 70.47 L249.21 71.11 L249.54 71.72 L249.87 72.29 L250.2 72.82 L250.53 73.31 L250.86 73.76 L251.19 74.18 L251.52 74.55 L251.85 74.89 L252.18 75.19 L252.51 75.45 L252.84 75.67 L253.17 75.86 L253.5 76.01 L253.83 76.12 L254.16 76.2 L254.49 76.25 L254.82 76.26 L255.15 76.24 L255.48 76.18 L255.81 76.1 L256.14 76 L256.47 75.87 L256.79 75.72 L257.12 75.56 L257.45 75.38 L257.78 75.18 L258.11 74.98 L258.44 74.77 L258.77 74.55 L259.1 74.34 L259.43 74.12 L259.76 73.9 L260.09 73.69 L260.42 73.49 L260.75 73.29 L261.08 73.1 L261.41 72.91 L261.74 72.72 L262.07 72.53 L262.4 72.35 L262.73 72.16 L263.06 71.97 L263.39 71.77 L263.72 71.58 L264.05 71.38 L264.38 71.17 L264.71 70.95 L265.03 70.73 L265.36 70.49 L265.69 70.24 L266.02 69.96 L266.35 69.66 L266.68 69.32 L267.01 68.94 L267.34 68.51 L267.67 68.02 L268 67.48 L268.33 66.87 L268.66 66.18 L268.99 65.41 L269.32 64.56 L269.65 63.62 L269.98 62.57 L270.31 61.42 L270.64 60.18 L270.97 58.85 L271.3 57.45 L271.63 55.98 L271.96 54.46 L272.29 52.89 L272.62 51.29 L272.94 49.67 L273.27 48.04 L273.6 46.4 L273.93 44.78 L274.26 43.17 L274.59 41.6 L274.92 40.06 L275.25 38.58 L275.58 37.15 L275.91 35.8 L276.24 34.53 L276.57 33.34 L276.9 32.23 L277.23 31.22 L277.56 30.31 L277.89 29.5 L278.22 28.81 L278.55 28.23 L278.88 27.77 L279.21 27.44 L279.54 27.25 L279.87 27.19 L280.2 27.28 L280.53 27.52 L280.85 27.92 L281.18 28.46 L281.51 29.14 L281.84 29.96 L282.17 30.9 L282.5 31.96 L282.83 33.13 L283.16 34.4 L283.49 35.77 L283.82 37.23 L284.15 38.77 L284.48 40.38 L284.81 42.06 L285.14 43.8 L285.47 45.59 L285.8 47.43 L286.13 49.3 L286.46 51.2 L286.79 53.13 L287.12 55.08 L287.45 57.04 L287.78 59.02 L288.11 61.01 L288.44 63.01 L288.77 65.01 L289.09 67.02 L289.42 69.02 L289.75 71.01 L290.08 73 L290.41 74.97 L290.74 76.9 L291.07 78.76 L291.4 80.53 L291.73 82.18 L292.06 83.7 L292.39 85.05 L292.72 86.22 L293.05 87.17 L293.38 87.89 L293.71 88.35 L294.04 88.53 L294.37 88.4 L294.7 87.93 L295.03 87.14 L295.36 86.06 L295.69 84.7 L296.02 83.1 L296.35 81.29 L296.68 79.29 L297 77.13 L297.33 74.84 L297.66 72.45 L297.99 69.99 L298.32 67.48 L298.65 64.95 L298.98 62.43 L299.31 59.94 L299.64 57.52 L299.97 55.2 L300.3 52.99 L300.63 50.9 L300.96 48.94 L301.29 47.09 L301.62 45.36 L301.95 43.75 L302.28 42.25 L302.61 40.86 L302.94 39.59 L303.27 38.43 L303.6 37.38 L303.93 36.44 L304.26 35.61 L304.59 34.88 L304.91 34.26 L305.24 33.74 L305.57 33.32 L305.9 33 L306.23 32.78 L306.56 32.66 L306.89 32.64 L307.22 32.71 L307.55 32.88 L307.88 33.13 L308.21 33.48 L308.54 33.92 L308.87 34.43 L309.2 35.02 L309.53 35.68 L309.86 36.39 L310.19 37.16 L310.52 37.97 L310.85 38.82 L311.18 39.7 L311.51 40.61 L311.84 41.53 L312.17 42.47 L312.5 43.41 L312.83 44.35 L313.15 45.28 L313.48 46.19 L313.81 47.08 L314.14 47.95 L314.47 48.77 L314.8 49.55 L315.13 50.29 L315.46 50.97 L315.79 51.6 L316.12 52.18 L316.45 52.71 L316.78 53.21 L317.11 53.66 L317.44 54.08 L317.77 54.46 L318.1 54.81 L318.43 55.13 L318.76 55.42 L319.09 55.68 L319.42 55.93 L319.75 56.15 L320.08 56.36 L320.41 56.55 L320.74 56.73 L321.06 56.91 L321.39 57.07 L321.72 57.23 L322.05 57.4 L322.38 57.58 L322.71 57.77 L323.04 57.98 L323.37 58.22 L323.7 58.49 L324.03 58.8 L324.36 59.16 L324.69 59.57 L325.02 60.03 L325.35 60.56 L325.68 61.14 L326.01 61.78 L326.34 62.47 L326.67 63.21 L327 63.99 L327.33 64.81 L327.66 65.67 L327.99 66.56 L328.32 67.48 L328.65 68.43 L328.97 69.4 L329.3 70.38 L329.63 71.38 L329.96 72.39 L330.29 73.4 L330.62 74.42 L330.95 75.42 L331.28 76.41 L331.61 77.38 L331.94 78.31 L332.27 79.2 L332.6 80.04 L332.93 80.82 L333.26 81.54 L333.59 82.19 L333.92 82.75 L334.25 83.23 L334.58 83.61 L334.91 83.88 L335.24 84.04 L335.57 84.08 L335.9 84 L336.23 83.77 L336.56 83.4 L336.88 82.9 L337.21 82.26 L337.54 81.5 L337.87 80.62 L338.2 79.63 L338.53 78.54 L338.86 77.35 L339.19 76.08 L339.52 74.72 L339.85 73.29 L340.18 71.79 L340.51 70.24 L340.84 68.63 L341.17 66.98 L341.5 65.29 L341.83 63.57 L342.16 61.82 L342.49 60.06 L342.82 58.3 L343.15 56.52 L343.48 54.74 L343.81 52.96 L344.14 51.18 L344.47 49.4 L344.8 47.62 L345.12 45.86 L345.45 44.1 L345.78 42.35 L346.11 40.62 L346.44 38.9 L346.77 37.2 L347.1 35.52 L347.43 33.86 L347.76 32.23 L348.09 30.62 L348.42 29.05 L348.75 27.5 L349.08 25.99 L349.41 24.52 L349.74 23.11 L350.07 21.78 L350.4 20.52 L350.73 19.37 L351.06 18.32 L351.39 17.39 L351.72 16.59 L352.05 15.94 L352.38 15.45 L352.71 15.13 L353.03 14.99 L353.36 15.05 L353.69 15.29 L354.02 15.72 L354.35 16.32 L354.68 17.1 L355.01 18.04 L355.34 19.14 L355.67 20.41 L356 21.82 L356.33 23.38 L356.66 25.08 L356.99 26.91 L357.32 28.87 L357.65 30.96 L357.98 33.16 L358.31 35.46 L358.64 37.83 L358.97 40.27 L359.3 42.76 L359.63 45.27 L359.96 47.8 L360.29 50.32 L360.62 52.82 L360.94 55.27 L361.27 57.68 L361.6 60 L361.93 62.24 L362.26 64.37 L362.59 66.38 L362.92 68.24 L363.25 69.95 L363.58 71.48 L363.91 72.81 L364.24 73.94 L364.57 74.84 L364.9 75.5" fill="none" stroke="#1c1cd0" stroke-width="2.1" stroke-linejoin="round" stroke-linecap="round"/>
<path d="M68.6 140.2 L68.93 140.77 L69.26 141.25 L69.59 141.65 L69.92 141.97 L70.25 142.22 L70.58 142.39 L70.91 142.49 L71.24 142.51 L71.57 142.47 L71.9 142.36 L72.23 142.19 L72.56 141.96 L72.88 141.66 L73.21 141.31 L73.54 140.9 L73.87 140.44 L74.2 139.93 L74.53 139.37 L74.86 138.76 L75.19 138.11 L75.52 137.41 L75.85 136.68 L76.18 135.9 L76.51 135.09 L76.84 134.25 L77.17 133.37 L77.5 132.47 L77.83 131.53 L78.16 130.58 L78.49 129.61 L78.82 128.63 L79.15 127.65 L79.48 126.67 L79.81 125.71 L80.14 124.77 L80.47 123.86 L80.79 122.99 L81.12 122.16 L81.45 121.39 L81.78 120.67 L82.11 120.01 L82.44 119.44 L82.77 118.94 L83.1 118.53 L83.43 118.22 L83.76 118.01 L84.09 117.91 L84.42 117.94 L84.75 118.08 L85.08 118.36 L85.41 118.76 L85.74 119.28 L86.07 119.91 L86.4 120.66 L86.73 121.51 L87.06 122.47 L87.39 123.52 L87.72 124.67 L88.05 125.91 L88.38 127.23 L88.7 128.64 L89.03 130.12 L89.36 131.68 L89.69 133.3 L90.02 134.99 L90.35 136.74 L90.68 138.55 L91.01 140.4 L91.34 142.29 L91.67 144.2 L92 146.13 L92.33 148.06 L92.66 149.99 L92.99 151.89 L93.32 153.77 L93.65 155.61 L93.98 157.4 L94.31 159.12 L94.64 160.78 L94.97 162.35 L95.3 163.83 L95.63 165.21 L95.96 166.47 L96.29 167.61 L96.62 168.61 L96.94 169.47 L97.27 170.16 L97.6 170.69 L97.93 171.04 L98.26 171.21 L98.59 171.17 L98.92 170.93 L99.25 170.49 L99.58 169.86 L99.91 169.06 L100.24 168.1 L100.57 166.97 L100.9 165.7 L101.23 164.29 L101.56 162.74 L101.89 161.08 L102.22 159.31 L102.55 157.44 L102.88 155.47 L103.21 153.43 L103.54 151.31 L103.87 149.13 L104.2 146.9 L104.53 144.62 L104.85 142.31 L105.18 139.97 L105.51 137.62 L105.84 135.26 L106.17 132.91 L106.5 130.59 L106.83 128.32 L107.16 126.12 L107.49 124 L107.82 121.98 L108.15 120.09 L108.48 118.34 L108.81 116.75 L109.14 115.33 L109.47 114.12 L109.8 113.12 L110.13 112.35 L110.46 111.84 L110.79 111.6 L111.12 111.62 L111.45 111.9 L111.78 112.41 L112.11 113.14 L112.44 114.06 L112.76 115.16 L113.09 116.42 L113.42 117.82 L113.75 119.34 L114.08 120.97 L114.41 122.68 L114.74 124.46 L115.07 126.29 L115.4 128.15 L115.73 130.02 L116.06 131.88 L116.39 133.72 L116.72 135.52 L117.05 137.26 L117.38 138.92 L117.71 140.5 L118.04 141.99 L118.37 143.41 L118.7 144.73 L119.03 145.96 L119.36 147.1 L119.69 148.14 L120.02 149.08 L120.35 149.92 L120.67 150.66 L121 151.29 L121.33 151.81 L121.66 152.21 L121.99 152.5 L122.32 152.67 L122.65 152.72 L122.98 152.64 L123.31 152.45 L123.64 152.15 L123.97 151.75 L124.3 151.26 L124.63 150.69 L124.96 150.05 L125.29 149.36 L125.62 148.62 L125.95 147.85 L126.28 147.05 L126.61 146.24 L126.94 145.42 L127.27 144.61 L127.6 143.81 L127.93 143.04 L128.26 142.31 L128.59 141.62 L128.91 140.99 L129.24 140.41 L129.57 139.89 L129.9 139.43 L130.23 139.03 L130.56 138.69 L130.89 138.41 L131.22 138.2 L131.55 138.06 L131.88 137.98 L132.21 137.97 L132.54 138.04 L132.87 138.18 L133.2 138.4 L133.53 138.69 L133.86 139.05 L134.19 139.47 L134.52 139.96 L134.85 140.5 L135.18 141.1 L135.51 141.76 L135.84 142.46 L136.17 143.2 L136.5 143.99 L136.82 144.82 L137.15 145.68 L137.48 146.57 L137.81 147.48 L138.14 148.41 L138.47 149.34 L138.8 150.26 L139.13 151.17 L139.46 152.05 L139.79 152.89 L140.12 153.69 L140.45 154.42 L140.78 155.09 L141.11 155.68 L141.44 156.17 L141.77 156.55 L142.1 156.8 L142.43 156.92 L142.76 156.9 L143.09 156.71 L143.42 156.35 L143.75 155.83 L144.08 155.15 L144.41 154.34 L144.73 153.38 L145.06 152.31 L145.39 151.12 L145.72 149.84 L146.05 148.46 L146.38 147.01 L146.71 145.48 L147.04 143.9 L147.37 142.27 L147.7 140.6 L148.03 138.91 L148.36 137.2 L148.69 135.49 L149.02 133.78 L149.35 132.09 L149.68 130.41 L150.01 128.76 L150.34 127.15 L150.67 125.57 L151 124.03 L151.33 122.53 L151.66 121.1 L151.99 119.72 L152.32 118.4 L152.65 117.15 L152.97 115.98 L153.3 114.89 L153.63 113.88 L153.96 112.97 L154.29 112.15 L154.62 111.44 L154.95 110.83 L155.28 110.34 L155.61 109.97 L155.94 109.72 L156.27 109.6 L156.6 109.62 L156.93 109.78 L157.26 110.07 L157.59 110.49 L157.92 111.04 L158.25 111.71 L158.58 112.51 L158.91 113.42 L159.24 114.45 L159.57 115.59 L159.9 116.83 L160.23 118.18 L160.56 119.63 L160.88 121.18 L161.21 122.82 L161.54 124.55 L161.87 126.36 L162.2 128.26 L162.53 130.24 L162.86 132.29 L163.19 134.42 L163.52 136.6 L163.85 138.82 L164.18 141.07 L164.51 143.34 L164.84 145.61 L165.17 147.87 L165.5 150.1 L165.83 152.3 L166.16 154.44 L166.49 156.51 L166.82 158.51 L167.15 160.41 L167.48 162.2 L167.81 163.87 L168.14 165.41 L168.47 166.79 L168.79 168.02 L169.12 169.06 L169.45 169.92 L169.78 170.57 L170.11 171.01 L170.44 171.21 L170.77 171.18 L171.1 170.91 L171.43 170.44 L171.76 169.76 L172.09 168.9 L172.42 167.86 L172.75 166.67 L173.08 165.34 L173.41 163.87 L173.74 162.29 L174.07 160.61 L174.4 158.84 L174.73 156.99 L175.06 155.09 L175.39 153.14 L175.72 151.16 L176.05 149.16 L176.38 147.16 L176.71 145.17 L177.03 143.2 L177.36 141.27 L177.69 139.38 L178.02 137.53 L178.35 135.74 L178.68 134.01 L179.01 132.36 L179.34 130.78 L179.67 129.28 L180 127.88 L180.33 126.57 L180.66 125.37 L180.99 124.28 L181.32 123.31 L181.65 122.47 L181.98 121.77 L182.31 121.2 L182.64 120.79 L182.97 120.53 L183.3 120.44 L183.63 120.51 L183.96 120.76 L184.29 121.17 L184.62 121.73 L184.94 122.42 L185.27 123.22 L185.6 124.12 L185.93 125.12 L186.26 126.18 L186.59 127.3 L186.92 128.46 L187.25 129.65 L187.58 130.85 L187.91 132.04 L188.24 133.22 L188.57 134.37 L188.9 135.46 L189.23 136.49 L189.56 137.45 L189.89 138.32 L190.22 139.11 L190.55 139.81 L190.88 140.44 L191.21 140.99 L191.54 141.46 L191.87 141.85 L192.2 142.17 L192.53 142.42 L192.85 142.6 L193.18 142.71 L193.51 142.76 L193.84 142.73 L194.17 142.65 L194.5 142.5 L194.83 142.29 L195.16 142.02 L195.49 141.7 L195.82 141.32 L196.15 140.89 L196.48 140.42 L196.81 139.89 L197.14 139.32 L197.47 138.71 L197.8 138.06 L198.13 137.37 L198.46 136.65 L198.79 135.9 L199.12 135.13 L199.45 134.35 L199.78 133.59 L200.11 132.84 L200.44 132.12 L200.76 131.44 L201.09 130.81 L201.42 130.25 L201.75 129.77 L202.08 129.37 L202.41 129.08 L202.74 128.89 L203.07 128.83 L203.4 128.9 L203.73 129.12 L204.06 129.47 L204.39 129.96 L204.72 130.59 L205.05 131.33 L205.38 132.19 L205.71 133.17 L206.04 134.25 L206.37 135.43 L206.7 136.71 L207.03 138.07 L207.36 139.52 L207.69 141.05 L208.02 142.65 L208.35 144.32 L208.68 146.05 L209 147.82 L209.33 149.63 L209.66 151.45 L209.99 153.27 L210.32 155.07 L210.65 156.84 L210.98 158.56 L211.31 160.22 L211.64 161.79 L211.97 163.27 L212.3 164.64 L212.63 165.88 L212.96 166.97 L213.29 167.9 L213.62 168.66 L213.95 169.22 L214.28 169.58 L214.61 169.71 L214.94 169.61 L215.27 169.24 L215.6 168.61 L215.93 167.69 L216.26 166.51 L216.59 165.08 L216.91 163.42 L217.24 161.56 L217.57 159.52 L217.9 157.31 L218.23 154.97 L218.56 152.5 L218.89 149.94 L219.22 147.3 L219.55 144.6 L219.88 141.86 L220.21 139.12 L220.54 136.37 L220.87 133.66 L221.2 130.99 L221.53 128.39 L221.86 125.88 L222.19 123.46 L222.52 121.14 L222.85 118.94 L223.18 116.85 L223.51 114.89 L223.84 113.07 L224.17 111.38 L224.5 109.85 L224.82 108.48 L225.15 107.28 L225.48 106.26 L225.81 105.42 L226.14 104.77 L226.47 104.33 L226.8 104.09 L227.13 104.08 L227.46 104.28 L227.79 104.71 L228.12 105.34 L228.45 106.16 L228.78 107.16 L229.11 108.33 L229.44 109.64 L229.77 111.1 L230.1 112.68 L230.43 114.38 L230.76 116.17 L231.09 118.05 L231.42 120.01 L231.75 122.02 L232.08 124.08 L232.41 126.18 L232.74 128.3 L233.06 130.42 L233.39 132.54 L233.72 134.64 L234.05 136.71 L234.38 138.74 L234.71 140.71 L235.04 142.64 L235.37 144.51 L235.7 146.33 L236.03 148.08 L236.36 149.77 L236.69 151.4 L237.02 152.96 L237.35 154.45 L237.68 155.86 L238.01 157.2 L238.34 158.46 L238.67 159.64 L239 160.73 L239.33 161.74 L239.66 162.66 L239.99 163.48 L240.32 164.21 L240.65 164.85 L240.97 165.38 L241.3 165.81 L241.63 166.13 L241.96 166.34 L242.29 166.45 L242.62 166.47 L242.95 166.39 L243.28 166.22 L243.61 165.96 L243.94 165.63 L244.27 165.22 L244.6 164.74 L244.93 164.2 L245.26 163.59 L245.59 162.93 L245.92 162.22 L246.25 161.46 L246.58 160.66 L246.91 159.82 L247.24 158.95 L247.57 158.05 L247.9 157.13 L248.23 156.19 L248.56 155.24 L248.88 154.28 L249.21 153.31 L249.54 152.35 L249.87 151.39 L250.2 150.44 L250.53 149.51 L250.86 148.59 L251.19 147.7 L251.52 146.83 L251.85 145.98 L252.18 145.16 L252.51 144.37 L252.84 143.61 L253.17 142.88 L253.5 142.19 L253.83 141.53 L254.16 140.91 L254.49 140.33 L254.82 139.78 L255.15 139.29 L255.48 138.83 L255.81 138.43 L256.14 138.07 L256.47 137.76 L256.79 137.5 L257.12 137.3 L257.45 137.14 L257.78 137.03 L258.11 136.95 L258.44 136.9 L258.77 136.87 L259.1 136.86 L259.43 136.85 L259.76 136.85 L260.09 136.85 L260.42 136.84 L260.75 136.81 L261.08 136.76 L261.41 136.68 L261.74 136.57 L262.07 136.42 L262.4 136.22 L262.73 135.98 L263.06 135.7 L263.39 135.38 L263.72 135.02 L264.05 134.62 L264.38 134.18 L264.71 133.71 L265.03 133.21 L265.36 132.67 L265.69 132.09 L266.02 131.49 L266.35 130.86 L266.68 130.2 L267.01 129.5 L267.34 128.79 L267.67 128.04 L268 127.28 L268.33 126.48 L268.66 125.67 L268.99 124.85 L269.32 124.02 L269.65 123.2 L269.98 122.39 L270.31 121.59 L270.64 120.83 L270.97 120.1 L271.3 119.42 L271.63 118.78 L271.96 118.21 L272.29 117.7 L272.62 117.27 L272.94 116.92 L273.27 116.66 L273.6 116.5 L273.93 116.45 L274.26 116.51 L274.59 116.69 L274.92 117.01 L275.25 117.45 L275.58 118.01 L275.91 118.7 L276.24 119.51 L276.57 120.43 L276.9 121.47 L277.23 122.62 L277.56 123.87 L277.89 125.23 L278.22 126.69 L278.55 128.25 L278.88 129.91 L279.21 131.66 L279.54 133.5 L279.87 135.42 L280.2 137.43 L280.53 139.53 L280.85 141.7 L281.18 143.94 L281.51 146.25 L281.84 148.59 L282.17 150.96 L282.5 153.33 L282.83 155.68 L283.16 157.99 L283.49 160.25 L283.82 162.44 L284.15 164.54 L284.48 166.52 L284.81 168.37 L285.14 170.08 L285.47 171.61 L285.8 172.96 L286.13 174.11 L286.46 175.02 L286.79 175.7 L287.12 176.11 L287.45 176.24 L287.78 176.07 L288.11 175.6 L288.44 174.85 L288.77 173.83 L289.09 172.57 L289.42 171.07 L289.75 169.37 L290.08 167.46 L290.41 165.38 L290.74 163.14 L291.07 160.76 L291.4 158.25 L291.73 155.64 L292.06 152.93 L292.39 150.16 L292.72 147.32 L293.05 144.45 L293.38 141.56 L293.71 138.67 L294.04 135.79 L294.37 132.95 L294.7 130.15 L295.03 127.41 L295.36 124.75 L295.69 122.18 L296.02 119.72 L296.35 117.38 L296.68 115.19 L297 113.14 L297.33 111.26 L297.66 109.57 L297.99 108.07 L298.32 106.79 L298.65 105.74 L298.98 104.94 L299.31 104.39 L299.64 104.12 L299.97 104.13 L300.3 104.43 L300.63 104.98 L300.96 105.77 L301.29 106.78 L301.62 107.99 L301.95 109.39 L302.28 110.94 L302.61 112.65 L302.94 114.47 L303.27 116.4 L303.6 118.42 L303.93 120.51 L304.26 122.65 L304.59 124.81 L304.91 126.99 L305.24 129.16 L305.57 131.3 L305.9 133.39 L306.23 135.42 L306.56 137.36 L306.89 139.21 L307.22 140.95 L307.55 142.6 L307.88 144.14 L308.21 145.59 L308.54 146.93 L308.87 148.18 L309.2 149.32 L309.53 150.36 L309.86 151.3 L310.19 152.14 L310.52 152.88 L310.85 153.51 L311.18 154.05 L311.51 154.48 L311.84 154.81 L312.17 155.04 L312.5 155.17 L312.83 155.2 L313.15 155.12 L313.48 154.95 L313.81 154.7 L314.14 154.37 L314.47 153.96 L314.8 153.49 L315.13 152.96 L315.46 152.39 L315.79 151.77 L316.12 151.12 L316.45 150.45 L316.78 149.75 L317.11 149.05 L317.44 148.34 L317.77 147.64 L318.1 146.94 L318.43 146.27 L318.76 145.62 L319.09 145.01 L319.42 144.44 L319.75 143.91 L320.08 143.45 L320.41 143.05 L320.74 142.72 L321.06 142.47 L321.39 142.31 L321.72 142.24 L322.05 142.28 L322.38 142.42 L322.71 142.68 L323.04 143.06 L323.37 143.53 L323.7 144.1 L324.03 144.75 L324.36 145.47 L324.69 146.26 L325.02 147.09 L325.35 147.96 L325.68 148.86 L326.01 149.78 L326.34 150.71 L326.67 151.64 L327 152.55 L327.33 153.44 L327.66 154.3 L327.99 155.12 L328.32 155.87 L328.65 156.57 L328.97 157.19 L329.3 157.72 L329.63 158.15 L329.96 158.48 L330.29 158.69 L330.62 158.78 L330.95 158.72 L331.28 158.52 L331.61 158.15 L331.94 157.64 L332.27 156.98 L332.6 156.19 L332.93 155.26 L333.26 154.22 L333.59 153.06 L333.92 151.8 L334.25 150.43 L334.58 148.98 L334.91 147.45 L335.24 145.85 L335.57 144.18 L335.9 142.45 L336.23 140.67 L336.56 138.84 L336.88 136.99 L337.21 135.11 L337.54 133.21 L337.87 131.29 L338.2 129.38 L338.53 127.47 L338.86 125.58 L339.19 123.71 L339.52 121.87 L339.85 120.07 L340.18 118.33 L340.51 116.64 L340.84 115.02 L341.17 113.49 L341.5 112.03 L341.83 110.68 L342.16 109.43 L342.49 108.3 L342.82 107.29 L343.15 106.41 L343.48 105.68 L343.81 105.09 L344.14 104.67 L344.47 104.42 L344.8 104.35 L345.12 104.46 L345.45 104.77 L345.78 105.28 L346.11 105.97 L346.44 106.83 L346.77 107.86 L347.1 109.03 L347.43 110.35 L347.76 111.79 L348.09 113.34 L348.42 115 L348.75 116.75 L349.08 118.58 L349.41 120.47 L349.74 122.42 L350.07 124.42 L350.4 126.45 L350.73 128.5 L351.06 130.56 L351.39 132.61 L351.72 134.66 L352.05 136.67 L352.38 138.65 L352.71 140.6 L353.03 142.51 L353.36 144.39 L353.69 146.24 L354.02 148.07 L354.35 149.88 L354.68 151.67 L355.01 153.44 L355.34 155.21 L355.67 156.96 L356 158.71 L356.33 160.46 L356.66 162.21 L356.99 163.95 L357.32 165.65 L357.65 167.33 L357.98 168.95 L358.31 170.5 L358.64 171.98 L358.97 173.37 L359.3 174.66 L359.63 175.84 L359.96 176.89 L360.29 177.79 L360.62 178.55 L360.94 179.14 L361.27 179.55 L361.6 179.77 L361.93 179.79 L362.26 179.59 L362.59 179.17 L362.92 178.5 L363.25 177.57 L363.58 176.38 L363.91 174.91 L364.24 173.15 L364.57 171.09 L364.9 168.7" fill="none" stroke="#1c1cd0" stroke-width="2.1" stroke-linejoin="round" stroke-linecap="round"/>
<path d="M68.6 267 L68.93 266.85 L69.26 266.7 L69.59 266.55 L69.92 266.4 L70.25 266.26 L70.58 266.11 L70.91 265.97 L71.24 265.83 L71.57 265.7 L71.9 265.56 L72.23 265.43 L72.56 265.3 L72.88 265.17 L73.21 265.04 L73.54 264.92 L73.87 264.8 L74.2 264.68 L74.53 264.56 L74.86 264.44 L75.19 264.32 L75.52 264.2 L75.85 264.09 L76.18 263.97 L76.51 263.86 L76.84 263.75 L77.17 263.64 L77.5 263.54 L77.83 263.44 L78.16 263.34 L78.49 263.24 L78.82 263.15 L79.15 263.06 L79.48 262.98 L79.81 262.9 L80.14 262.82 L80.47 262.74 L80.79 262.67 L81.12 262.6 L81.45 262.53 L81.78 262.46 L82.11 262.4 L82.44 262.34 L82.77 262.28 L83.1 262.23 L83.43 262.18 L83.76 262.14 L84.09 262.09 L84.42 262.05 L84.75 262.01 L85.08 261.98 L85.41 261.94 L85.74 261.9 L86.07 261.87 L86.4 261.84 L86.73 261.81 L87.06 261.78 L87.39 261.75 L87.72 261.72 L88.05 261.69 L88.38 261.66 L88.7 261.63 L89.03 261.6 L89.36 261.56 L89.69 261.53 L90.02 261.5 L90.35 261.47 L90.68 261.43 L91.01 261.4 L91.34 261.36 L91.67 261.33 L92 261.3 L92.33 261.27 L92.66 261.24 L92.99 261.21 L93.32 261.18 L93.65 261.15 L93.98 261.12 L94.31 261.1 L94.64 261.07 L94.97 261.04 L95.3 261.01 L95.63 260.97 L95.96 260.94 L96.29 260.91 L96.62 260.87 L96.94 260.83 L97.27 260.79 L97.6 260.75 L97.93 260.7 L98.26 260.65 L98.59 260.6 L98.92 260.55 L99.25 260.49 L99.58 260.42 L99.91 260.35 L100.24 260.26 L100.57 260.14 L100.9 260 L101.23 259.84 L101.56 259.66 L101.89 259.48 L102.22 259.28 L102.55 259.07 L102.88 258.86 L103.21 258.64 L103.54 258.42 L103.87 258.21 L104.2 257.99 L104.53 257.78 L104.85 257.57 L105.18 257.33 L105.51 257.07 L105.84 256.81 L106.17 256.54 L106.5 256.27 L106.83 256.01 L107.16 255.75 L107.49 255.52 L107.82 255.31 L108.15 255.12 L108.48 254.97 L108.81 254.82 L109.14 254.69 L109.47 254.56 L109.8 254.44 L110.13 254.33 L110.46 254.22 L110.79 254.12 L111.12 254.03 L111.45 253.95 L111.78 253.88 L112.11 253.82 L112.44 253.76 L112.76 253.72 L113.09 253.67 L113.42 253.63 L113.75 253.59 L114.08 253.56 L114.41 253.53 L114.74 253.5 L115.07 253.47 L115.4 253.44 L115.73 253.41 L116.06 253.39 L116.39 253.36 L116.72 253.33 L117.05 253.3 L117.38 253.27 L117.71 253.23 L118.04 253.2 L118.37 253.16 L118.7 253.12 L119.03 253.08 L119.36 253.04 L119.69 253 L120.02 252.96 L120.35 252.92 L120.67 252.88 L121 252.83 L121.33 252.79 L121.66 252.75 L121.99 252.71 L122.32 252.66 L122.65 252.62 L122.98 252.57 L123.31 252.53 L123.64 252.48 L123.97 252.44 L124.3 252.39 L124.63 252.35 L124.96 252.3 L125.29 252.25 L125.62 252.21 L125.95 252.16 L126.28 252.11 L126.61 252.06 L126.94 252.01 L127.27 251.96 L127.6 251.91 L127.93 251.86 L128.26 251.81 L128.59 251.76 L128.91 251.71 L129.24 251.66 L129.57 251.6 L129.9 251.55 L130.23 251.5 L130.56 251.45 L130.89 251.4 L131.22 251.35 L131.55 251.3 L131.88 251.25 L132.21 251.2 L132.54 251.16 L132.87 251.11 L133.2 251.06 L133.53 251.01 L133.86 250.96 L134.19 250.91 L134.52 250.86 L134.85 250.81 L135.18 250.76 L135.51 250.7 L135.84 250.65 L136.17 250.6 L136.5 250.54 L136.82 250.48 L137.15 250.42 L137.48 250.36 L137.81 250.3 L138.14 250.24 L138.47 250.17 L138.8 250.1 L139.13 250.03 L139.46 249.96 L139.79 249.88 L140.12 249.81 L140.45 249.73 L140.78 249.64 L141.11 249.56 L141.44 249.47 L141.77 249.38 L142.1 249.28 L142.43 249.18 L142.76 249.08 L143.09 248.96 L143.42 248.82 L143.75 248.66 L144.08 248.48 L144.41 248.28 L144.73 248.08 L145.06 247.87 L145.39 247.65 L145.72 247.44 L146.05 247.23 L146.38 247.02 L146.71 246.82 L147.04 246.63 L147.37 246.45 L147.7 246.26 L148.03 246.06 L148.36 245.86 L148.69 245.66 L149.02 245.46 L149.35 245.26 L149.68 245.07 L150.01 244.88 L150.34 244.71 L150.67 244.54 L151 244.39 L151.33 244.26 L151.66 244.14 L151.99 244.05 L152.32 243.98 L152.65 243.91 L152.97 243.86 L153.3 243.8 L153.63 243.75 L153.96 243.7 L154.29 243.66 L154.62 243.62 L154.95 243.58 L155.28 243.54 L155.61 243.51 L155.94 243.47 L156.27 243.44 L156.6 243.41 L156.93 243.38 L157.26 243.35 L157.59 243.32 L157.92 243.29 L158.25 243.25 L158.58 243.22 L158.91 243.19 L159.24 243.16 L159.57 243.13 L159.9 243.1 L160.23 243.07 L160.56 243.04 L160.88 243.01 L161.21 242.99 L161.54 242.96 L161.87 242.94 L162.2 242.92 L162.53 242.89 L162.86 242.87 L163.19 242.85 L163.52 242.83 L163.85 242.81 L164.18 242.78 L164.51 242.76 L164.84 242.74 L165.17 242.72 L165.5 242.69 L165.83 242.67 L166.16 242.64 L166.49 242.62 L166.82 242.59 L167.15 242.56 L167.48 242.54 L167.81 242.51 L168.14 242.47 L168.47 242.44 L168.79 242.41 L169.12 242.37 L169.45 242.33 L169.78 242.29 L170.11 242.25 L170.44 242.21 L170.77 242.16 L171.1 242.11 L171.43 242.05 L171.76 241.99 L172.09 241.92 L172.42 241.84 L172.75 241.76 L173.08 241.68 L173.41 241.59 L173.74 241.49 L174.07 241.39 L174.4 241.28 L174.73 241.16 L175.06 241.04 L175.39 240.88 L175.72 240.69 L176.05 240.47 L176.38 240.24 L176.71 239.98 L177.03 239.72 L177.36 239.45 L177.69 239.18 L178.02 238.92 L178.35 238.66 L178.68 238.43 L179.01 238.21 L179.34 238.02 L179.67 237.83 L180 237.65 L180.33 237.46 L180.66 237.28 L180.99 237.11 L181.32 236.94 L181.65 236.77 L181.98 236.62 L182.31 236.47 L182.64 236.33 L182.97 236.21 L183.3 236.09 L183.63 235.99 L183.96 235.9 L184.29 235.81 L184.62 235.73 L184.94 235.65 L185.27 235.57 L185.6 235.49 L185.93 235.42 L186.26 235.35 L186.59 235.29 L186.92 235.22 L187.25 235.16 L187.58 235.1 L187.91 235.04 L188.24 234.98 L188.57 234.92 L188.9 234.87 L189.23 234.82 L189.56 234.76 L189.89 234.71 L190.22 234.66 L190.55 234.61 L190.88 234.56 L191.21 234.51 L191.54 234.46 L191.87 234.41 L192.2 234.36 L192.53 234.31 L192.85 234.25 L193.18 234.2 L193.51 234.15 L193.84 234.09 L194.17 234.04 L194.5 233.98 L194.83 233.93 L195.16 233.87 L195.49 233.82 L195.82 233.76 L196.15 233.71 L196.48 233.65 L196.81 233.6 L197.14 233.54 L197.47 233.49 L197.8 233.43 L198.13 233.38 L198.46 233.33 L198.79 233.27 L199.12 233.22 L199.45 233.17 L199.78 233.12 L200.11 233.07 L200.44 233.02 L200.76 232.96 L201.09 232.91 L201.42 232.86 L201.75 232.82 L202.08 232.77 L202.41 232.72 L202.74 232.67 L203.07 232.63 L203.4 232.58 L203.73 232.53 L204.06 232.49 L204.39 232.44 L204.72 232.4 L205.05 232.36 L205.38 232.32 L205.71 232.27 L206.04 232.23 L206.37 232.2 L206.7 232.16 L207.03 232.12 L207.36 232.09 L207.69 232.05 L208.02 232.02 L208.35 231.98 L208.68 231.95 L209 231.91 L209.33 231.87 L209.66 231.84 L209.99 231.8 L210.32 231.76 L210.65 231.73 L210.98 231.7 L211.31 231.67 L211.64 231.64 L211.97 231.61 L212.3 231.58 L212.63 231.55 L212.96 231.52 L213.29 231.49 L213.62 231.46 L213.95 231.42 L214.28 231.38 L214.61 231.34 L214.94 231.3 L215.27 231.25 L215.6 231.2 L215.93 231.14 L216.26 231.07 L216.59 231 L216.91 230.9 L217.24 230.75 L217.57 230.56 L217.9 230.33 L218.23 230.07 L218.56 229.79 L218.89 229.5 L219.22 229.21 L219.55 228.92 L219.88 228.65 L220.21 228.39 L220.54 228.14 L220.87 227.86 L221.2 227.57 L221.53 227.28 L221.86 226.98 L222.19 226.68 L222.52 226.39 L222.85 226.11 L223.18 225.86 L223.51 225.62 L223.84 225.42 L224.17 225.26 L224.5 225.13 L224.82 225.04 L225.15 224.96 L225.48 224.89 L225.81 224.81 L226.14 224.75 L226.47 224.69 L226.8 224.63 L227.13 224.57 L227.46 224.52 L227.79 224.48 L228.12 224.43 L228.45 224.39 L228.78 224.35 L229.11 224.31 L229.44 224.27 L229.77 224.23 L230.1 224.2 L230.43 224.16 L230.76 224.13 L231.09 224.09 L231.42 224.06 L231.75 224.02 L232.08 223.98 L232.41 223.94 L232.74 223.91 L233.06 223.87 L233.39 223.84 L233.72 223.81 L234.05 223.78 L234.38 223.75 L234.71 223.73 L235.04 223.7 L235.37 223.67 L235.7 223.65 L236.03 223.62 L236.36 223.6 L236.69 223.58 L237.02 223.55 L237.35 223.53 L237.68 223.51 L238.01 223.48 L238.34 223.46 L238.67 223.44 L239 223.41 L239.33 223.39 L239.66 223.36 L239.99 223.34 L240.32 223.31 L240.65 223.29 L240.97 223.26 L241.3 223.23 L241.63 223.2 L241.96 223.17 L242.29 223.13 L242.62 223.1 L242.95 223.06 L243.28 223.03 L243.61 222.99 L243.94 222.95 L244.27 222.9 L244.6 222.86 L244.93 222.81 L245.26 222.76 L245.59 222.7 L245.92 222.63 L246.25 222.56 L246.58 222.48 L246.91 222.39 L247.24 222.3 L247.57 222.21 L247.9 222.11 L248.23 222 L248.56 221.9 L248.88 221.79 L249.21 221.68 L249.54 221.56 L249.87 221.45 L250.2 221.34 L250.53 221.22 L250.86 221.11 L251.19 221 L251.52 220.88 L251.85 220.75 L252.18 220.63 L252.51 220.49 L252.84 220.35 L253.17 220.21 L253.5 220.07 L253.83 219.92 L254.16 219.78 L254.49 219.63 L254.82 219.48 L255.15 219.34 L255.48 219.19 L255.81 219.05 L256.14 218.9 L256.47 218.76 L256.79 218.63 L257.12 218.5 L257.45 218.37 L257.78 218.25 L258.11 218.13 L258.44 218.02 L258.77 217.91 L259.1 217.79 L259.43 217.68 L259.76 217.57 L260.09 217.46 L260.42 217.36 L260.75 217.25 L261.08 217.14 L261.41 217.04 L261.74 216.93 L262.07 216.83 L262.4 216.73 L262.73 216.62 L263.06 216.53 L263.39 216.43 L263.72 216.33 L264.05 216.24 L264.38 216.14 L264.71 216.05 L265.03 215.97 L265.36 215.88 L265.69 215.8 L266.02 215.71 L266.35 215.63 L266.68 215.56 L267.01 215.48 L267.34 215.41 L267.67 215.34 L268 215.28 L268.33 215.21 L268.66 215.15 L268.99 215.09 L269.32 215.04 L269.65 214.98 L269.98 214.93 L270.31 214.87 L270.64 214.82 L270.97 214.77 L271.3 214.72 L271.63 214.68 L271.96 214.63 L272.29 214.58 L272.62 214.54 L272.94 214.49 L273.27 214.45 L273.6 214.41 L273.93 214.37 L274.26 214.32 L274.59 214.28 L274.92 214.24 L275.25 214.2 L275.58 214.16 L275.91 214.12 L276.24 214.08 L276.57 214.04 L276.9 214.01 L277.23 213.97 L277.56 213.93 L277.89 213.89 L278.22 213.85 L278.55 213.81 L278.88 213.77 L279.21 213.73 L279.54 213.69 L279.87 213.66 L280.2 213.63 L280.53 213.6 L280.85 213.57 L281.18 213.54 L281.51 213.51 L281.84 213.49 L282.17 213.46 L282.5 213.44 L282.83 213.41 L283.16 213.39 L283.49 213.36 L283.82 213.34 L284.15 213.31 L284.48 213.29 L284.81 213.26 L285.14 213.23 L285.47 213.2 L285.8 213.17 L286.13 213.14 L286.46 213.1 L286.79 213.07 L287.12 213.03 L287.45 212.98 L287.78 212.94 L288.11 212.89 L288.44 212.84 L288.77 212.79 L289.09 212.74 L289.42 212.68 L289.75 212.61 L290.08 212.55 L290.41 212.47 L290.74 212.36 L291.07 212.21 L291.4 212.03 L291.73 211.81 L292.06 211.57 L292.39 211.32 L292.72 211.05 L293.05 210.77 L293.38 210.5 L293.71 210.23 L294.04 209.97 L294.37 209.69 L294.7 209.39 L295.03 209.06 L295.36 208.72 L295.69 208.38 L296.02 208.05 L296.35 207.73 L296.68 207.43 L297 207.17 L297.33 206.94 L297.66 206.77 L297.99 206.62 L298.32 206.48 L298.65 206.35 L298.98 206.23 L299.31 206.11 L299.64 206.01 L299.97 205.91 L300.3 205.82 L300.63 205.73 L300.96 205.65 L301.29 205.58 L301.62 205.52 L301.95 205.45 L302.28 205.4 L302.61 205.34 L302.94 205.28 L303.27 205.23 L303.6 205.18 L303.93 205.13 L304.26 205.09 L304.59 205.04 L304.91 205 L305.24 204.96 L305.57 204.92 L305.9 204.88 L306.23 204.84 L306.56 204.8 L306.89 204.77 L307.22 204.73 L307.55 204.7 L307.88 204.67 L308.21 204.63 L308.54 204.6 L308.87 204.57 L309.2 204.54 L309.53 204.5 L309.86 204.47 L310.19 204.44 L310.52 204.41 L310.85 204.37 L311.18 204.34 L311.51 204.31 L311.84 204.27 L312.17 204.24 L312.5 204.2 L312.83 204.17 L313.15 204.13 L313.48 204.09 L313.81 204.05 L314.14 204.01 L314.47 203.98 L314.8 203.94 L315.13 203.9 L315.46 203.87 L315.79 203.83 L316.12 203.79 L316.45 203.76 L316.78 203.72 L317.11 203.69 L317.44 203.65 L317.77 203.61 L318.1 203.58 L318.43 203.54 L318.76 203.5 L319.09 203.47 L319.42 203.43 L319.75 203.39 L320.08 203.35 L320.41 203.31 L320.74 203.27 L321.06 203.23 L321.39 203.18 L321.72 203.14 L322.05 203.09 L322.38 203.05 L322.71 203 L323.04 202.95 L323.37 202.9 L323.7 202.85 L324.03 202.8 L324.36 202.75 L324.69 202.7 L325.02 202.65 L325.35 202.6 L325.68 202.54 L326.01 202.49 L326.34 202.43 L326.67 202.37 L327 202.31 L327.33 202.25 L327.66 202.18 L327.99 202.12 L328.32 202.05 L328.65 201.97 L328.97 201.9 L329.3 201.82 L329.63 201.74 L329.96 201.66 L330.29 201.57 L330.62 201.48 L330.95 201.38 L331.28 201.28 L331.61 201.16 L331.94 201.02 L332.27 200.88 L332.6 200.72 L332.93 200.56 L333.26 200.39 L333.59 200.21 L333.92 200.03 L334.25 199.85 L334.58 199.66 L334.91 199.48 L335.24 199.3 L335.57 199.12 L335.9 198.93 L336.23 198.74 L336.56 198.53 L336.88 198.31 L337.21 198.09 L337.54 197.86 L337.87 197.64 L338.2 197.42 L338.53 197.21 L338.86 197.01 L339.19 196.83 L339.52 196.67 L339.85 196.52 L340.18 196.41 L340.51 196.31 L340.84 196.21 L341.17 196.12 L341.5 196.03 L341.83 195.95 L342.16 195.87 L342.49 195.8 L342.82 195.72 L343.15 195.66 L343.48 195.59 L343.81 195.53 L344.14 195.48 L344.47 195.42 L344.8 195.37 L345.12 195.32 L345.45 195.28 L345.78 195.24 L346.11 195.2 L346.44 195.16 L346.77 195.13 L347.1 195.09 L347.43 195.06 L347.76 195.03 L348.09 195.01 L348.42 194.98 L348.75 194.95 L349.08 194.93 L349.41 194.91 L349.74 194.88 L350.07 194.86 L350.4 194.84 L350.73 194.82 L351.06 194.8 L351.39 194.78 L351.72 194.76 L352.05 194.74 L352.38 194.72 L352.71 194.7 L353.03 194.68 L353.36 194.65 L353.69 194.63 L354.02 194.61 L354.35 194.58 L354.68 194.56 L355.01 194.53 L355.34 194.5 L355.67 194.48 L356 194.45 L356.33 194.42 L356.66 194.4 L356.99 194.37 L357.32 194.35 L357.65 194.32 L357.98 194.3 L358.31 194.27 L358.64 194.24 L358.97 194.21 L359.3 194.18 L359.63 194.15 L359.96 194.12 L360.29 194.09 L360.62 194.05 L360.94 194.01 L361.27 193.97 L361.6 193.92 L361.93 193.87 L362.26 193.82 L362.59 193.76 L362.92 193.69 L363.25 193.6 L363.58 193.49 L363.91 193.37 L364.24 193.25 L364.57 193.13 L364.9 193" fill="none" stroke="#1c1cd0" stroke-width="2.1" stroke-linejoin="round" stroke-linecap="round"/>
<rect x="53.7" y="11.5" width="326" height="80.8" fill="none" stroke="#111" stroke-width="1"/>
<line x1="68.5" y1="92.3" x2="68.5" y2="96.2" stroke="#111" stroke-width="1"/>
<line x1="162.85" y1="92.3" x2="162.85" y2="96.2" stroke="#111" stroke-width="1"/>
<line x1="257.2" y1="92.3" x2="257.2" y2="96.2" stroke="#111" stroke-width="1"/>
<line x1="351.55" y1="92.3" x2="351.55" y2="96.2" stroke="#111" stroke-width="1"/>
<line x1="49.8" y1="71.35" x2="53.7" y2="71.35" stroke="#111" stroke-width="1"/>
<line x1="49.8" y1="37.4" x2="53.7" y2="37.4" stroke="#111" stroke-width="1"/>
<rect x="53.7" y="100.7" width="326" height="80.7" fill="none" stroke="#111" stroke-width="1"/>
<line x1="68.5" y1="181.4" x2="68.5" y2="185.3" stroke="#111" stroke-width="1"/>
<line x1="162.85" y1="181.4" x2="162.85" y2="185.3" stroke="#111" stroke-width="1"/>
<line x1="257.2" y1="181.4" x2="257.2" y2="185.3" stroke="#111" stroke-width="1"/>
<line x1="351.55" y1="181.4" x2="351.55" y2="185.3" stroke="#111" stroke-width="1"/>
<line x1="49.8" y1="140.2" x2="53.7" y2="140.2" stroke="#111" stroke-width="1"/>
<line x1="49.8" y1="181.4" x2="53.7" y2="181.4" stroke="#111" stroke-width="1"/>
<rect x="53.7" y="189.7" width="326" height="80.7" fill="none" stroke="#111" stroke-width="1"/>
<line x1="68.5" y1="270.4" x2="68.5" y2="274.3" stroke="#111" stroke-width="1"/>
<line x1="162.85" y1="270.4" x2="162.85" y2="274.3" stroke="#111" stroke-width="1"/>
<line x1="257.2" y1="270.4" x2="257.2" y2="274.3" stroke="#111" stroke-width="1"/>
<line x1="351.55" y1="270.4" x2="351.55" y2="274.3" stroke="#111" stroke-width="1"/>
<line x1="49.8" y1="267" x2="53.7" y2="267" stroke="#111" stroke-width="1"/>
<line x1="49.8" y1="206.6" x2="53.7" y2="206.6" stroke="#111" stroke-width="1"/>
</g>
<rect x="264.6" y="299.1" width="181" height="29.8" rx="3" ry="3" fill="#fff" fill-opacity="0.8" stroke="#cccccc" stroke-width="1"/>
<line x1="270.1" y1="312.6" x2="303.7" y2="312.6" stroke="#e41a1a" stroke-width="1.7"/>
<line x1="270.1" y1="321.2" x2="303.7" y2="321.2" stroke="#1c1cd0" stroke-width="1.7"/>
<circle cx="3.5" cy="150.4" r="1.15" fill="#000"/>
<g id="txt">
<text id="yt1" x="38.85" y="42.45" font-size="16.30">2</text>
<text id="yt2" x="38.45" y="76.65" font-size="16.30">1</text>
<text id="yt3" x="38.70" y="145.75" font-size="16.30">0</text>
<text id="yt4" x="25.50" y="186.65" font-size="16.30" textLength="20.01" lengthAdjust="spacingAndGlyphs">−2</text>
<text id="yt5" x="30.60" y="212.45" font-size="16.30">20</text>
<text id="yt6" x="38.75" y="273.10" font-size="16.30">0</text>
<text id="xt0" x="63.95" y="289.65" font-size="16.30">0</text>
<text id="xt1" x="154.45" y="289.65" font-size="16.30">10</text>
<text id="xt2" x="248.45" y="289.65" font-size="16.30">20</text>
<text id="xt3" x="343.45" y="289.45" font-size="16.30">30</text>
<text id="xl" x="212.95" y="310.25" font-size="21.50"><tspan font-style="italic">t</tspan></text>
<text id="yl1" transform="translate(17.50 67.95) rotate(-90)" font-size="21.55" textLength="32.10" lengthAdjust="spacingAndGlyphs"><tspan font-style="italic">ρ</tspan>(<tspan font-style="italic">t</tspan>)</text>
<text id="yl2" transform="translate(17.00 156.95) rotate(-90)" font-size="22.08" textLength="32.07" lengthAdjust="spacingAndGlyphs"><tspan font-style="italic">ρ</tspan>(<tspan font-style="italic">t</tspan>)</text>
<text id="yl3" transform="translate(15.50 260.15) rotate(-90)" font-size="20.49" textLength="62.65" lengthAdjust="spacingAndGlyphs"><tspan font-style="italic">ω</tspan><tspan font-style="italic" font-size="70%" dy="0.2em">ρ</tspan><tspan dy="-0.14em">(0,</tspan><tspan font-style="italic" dx="0.1em">t</tspan>)</text>
<text id="zx1" x="403.10" y="264.80" font-size="16.00" textLength="18.28" lengthAdjust="spacingAndGlyphs">−5</text>
<text id="zx2" x="457.40" y="281.20" font-size="16.00">0</text>
<text id="zx3" x="507.45" y="296.45" font-size="16.00">5</text>
<text id="zp1" x="573.45" y="286.20" font-size="16.00" textLength="19.76" lengthAdjust="spacingAndGlyphs">−2</text>
<text id="zp2" x="605.35" y="260.20" font-size="16.00">0</text>
<text id="zp3" x="630.65" y="234.80" font-size="16.00">2</text>
<text id="zz0" x="651.80" y="199.80" font-size="16.00">0</text>
<text id="zz1" x="650.10" y="155.20" font-size="16.00">10</text>
<text id="zz2" x="652.50" y="108.35" font-size="16.00">20</text>
<text id="zz3" x="654.60" y="60.00" font-size="16.00">30</text>
<text id="lx" x="452.65" y="296.30" font-size="21.50"><tspan font-style="italic">x</tspan></text>
<text id="lp" x="618.10" y="269.90" font-size="21.50"><tspan font-style="italic">p</tspan></text>
<text id="lt" x="675.75" y="118.55" font-size="21.50"><tspan font-style="italic">t</tspan></text>
<text id="lg1a" x="314.10" y="319.05" font-size="16.60"><tspan font-style="italic">ω</tspan></text>
<text id="lg1b" x="330.20" y="320.70" font-size="16.60" textLength="12.23" lengthAdjust="spacingAndGlyphs">=</text>
<text id="lg1c" x="346.45" y="319.25" font-size="16.60">2.5</text>
<text id="lg2a" x="383.65" y="318.25" font-size="16.60">Δ</text>
<text id="lg2b" x="399.30" y="320.70" font-size="16.60" textLength="12.45" lengthAdjust="spacingAndGlyphs">=</text>
<text id="lg2c" x="417.20" y="319.40" font-size="16.60">1/2</text>
</g>
</svg>
</body></html>
